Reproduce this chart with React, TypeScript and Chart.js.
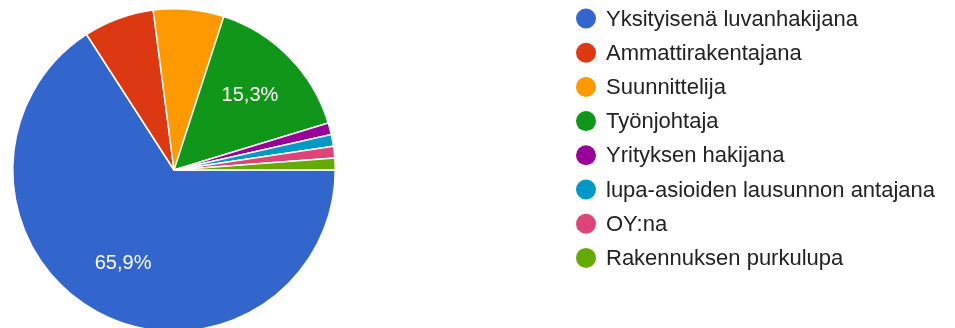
import React, { useEffect, useRef } from "react";
import { Chart, registerables } from "chart.js";

Chart.register(...registerables);

const categories: string[] = [
  "Yksityisenä luvanhakijana",
  "Ammattirakentajana",
  "Suunnittelija",
  "Työnjohtaja",
  "Yrityksen hakijana",
  "lupa-asioiden lausunnon antajana",
  "OY:na",
  "Rakennuksen purkulupa",
];

const counts: number[] = [56, 6, 6, 13, 1, 1, 1, 1];

const colors: string[] = [
  "#3366cc",
  "#dc3912",
  "#ff9900",
  "#109618",
  "#990099",
  "#0099c6",
  "#dd4477",
  "#66aa00",
];

const FONT = "'Liberation Sans', Arial, sans-serif";

const sliceLabels = {
  id: "sliceLabels",
  afterDatasetsDraw(chart: any) {
    const ctx = chart.ctx;
    const meta = chart.getDatasetMeta(0);
    const data = chart.data.datasets[0].data as number[];
    const total = data.reduce((a, b) => a + b, 0);
    ctx.save();
    ctx.fillStyle = "#ffffff";
    ctx.font = `20px ${FONT}`;
    ctx.textAlign = "center";
    ctx.textBaseline = "middle";
    meta.data.forEach((arc: any, i: number) => {
      const share = data[i] / total;
      if (share < 0.1) return;
      const { x, y, startAngle, endAngle, outerRadius } = arc.getProps(
        ["x", "y", "startAngle", "endAngle", "outerRadius"],
        true
      );
      const mid = (startAngle + endAngle) / 2;
      const r = outerRadius * 0.66;
      const txt = (share * 100).toFixed(1).replace(".", ",") + "%";
      ctx.fillText(txt, x + Math.cos(mid) * r, y + Math.sin(mid) * r);
    });
    ctx.restore();
  },
};

const sideLegend = {
  id: "sideLegend",
  afterDraw(chart: any) {
    const ctx = chart.ctx;
    const labels = chart.data.labels as string[];
    const bg = chart.data.datasets[0].backgroundColor as string[];
    ctx.save();
    ctx.font = `22px ${FONT}`;
    ctx.textBaseline = "middle";
    ctx.textAlign = "left";
    labels.forEach((lab, i) => {
      const cy = 18.5 + i * 34.2;
      ctx.beginPath();
      ctx.fillStyle = bg[i];
      ctx.arc(586, cy, 10, 0, Math.PI * 2);
      ctx.fill();
      ctx.fillStyle = "#222222";
      ctx.fillText(lab, 606, cy + 1);
    });
    ctx.restore();
  },
};

export default function App() {
  const ref = useRef<HTMLCanvasElement | null>(null);
  useEffect(() => {
    if (!ref.current) return;
    const chart = new Chart(ref.current, {
      type: "pie",
      data: {
        labels: categories,
        datasets: [
          {
            data: counts,
            backgroundColor: colors,
            borderColor: "#ffffff",
            borderWidth: 1.5,
          },
        ],
      },
      options: {
        animation: false,
        responsive: false,
        maintainAspectRatio: false,
        rotation: 90,
        layout: { padding: { left: 12, top: 8, right: 619, bottom: 4 } },
        plugins: {
          legend: { display: false },
          tooltip: { enabled: false },
        },
      },
      plugins: [sliceLabels, sideLegend],
    });
    return () => chart.destroy();
  }, []);
  return (
    <div
      style={{
        position: "fixed",
        left: 0,
        top: 0,
        width: 955,
        height: 328,
        overflow: "hidden",
        background: "#ffffff",
      }}
    >
      <canvas ref={ref} width={955} height={336} style={{ display: "block" }} />
    </div>
  );
}
